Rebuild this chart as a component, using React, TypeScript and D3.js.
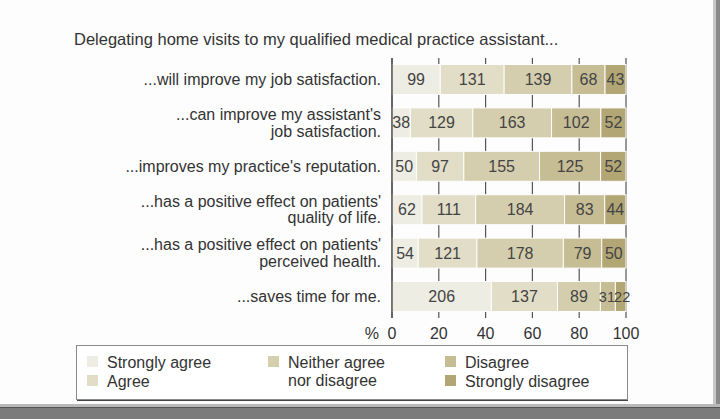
import React from "react";
import * as d3 from "d3";

const title = "Delegating home visits to my qualified medical practice assistant...";
const categories = [
  ["...will improve my job satisfaction."],
  ["...can improve my assistant's", "job satisfaction."],
  ["...improves my practice's reputation."],
  ["...has a positive effect on patients'", "quality of life."],
  ["...has a positive effect on patients'", "perceived health."],
  ["...saves time for me."],
];
const seriesNames = ["Strongly agree", "Agree", "Neither agree nor disagree", "Disagree", "Strongly disagree"];
const strongAgree = [99, 38, 50, 62, 54, 206];
const agree = [131, 129, 97, 111, 121, 137];
const neither = [139, 163, 155, 184, 178, 89];
const disagree = [68, 102, 125, 83, 79, 31];
const strongDisagree = [43, 52, 52, 44, 50, 22];
const tickValues = [0, 20, 40, 60, 80, 100];

const colors = ["#eeede3", "#e1ddc7", "#d5ceae", "#c6bd95", "#b2a674"];
const FONT = "'Liberation Sans', Arial, sans-serif";

export default function App() {
  const W = 720, H = 419;
  const keys = ["sa", "a", "n", "d", "sd"];
  const rows = categories.map((c, i) => ({
    idx: i,
    sa: strongAgree[i], a: agree[i], n: neither[i], d: disagree[i], sd: strongDisagree[i],
  }));
  const stack = d3.stack<any>().keys(keys).offset(d3.stackOffsetExpand);
  const layers = stack(rows as any);
  const x = d3.scaleLinear().domain([0, 1]).range([392, 626]);
  const xt = d3.scaleLinear().domain([0, 100]).range([392, 626]);
  const y = d3.scaleBand<number>().domain(categories.map((_, i) => i)).range([58, 318]).paddingInner(0.31).paddingOuter(0.15);
  const raw = [strongAgree, agree, neither, disagree, strongDisagree];

  return (
    <svg width={W} height={H} style={{ position: "absolute", left: 0, top: 0, background: "#fdfdfd" }} fontFamily={FONT}>
      <rect x={0} y={0} width={W} height={H} fill="#fdfdfd" />
      {/* frame */}
      <rect x={713} y={0} width={3} height={H} fill="#c8c8c8" />
      <rect x={716} y={0} width={4} height={H} fill="#8a8a8a" />
      <rect x={0} y={404} width={W} height={3} fill="#b8b8b8" />
      <rect x={0} y={407} width={W} height={12} fill="#7b7b7b" />
      <rect x={0} y={407} width={W} height={1} fill="#555" />

      <text x={74} y={45} fontSize={16.5} fill="#333">{title}</text>

      {/* gridlines */}
      {tickValues.map((t) => (
        <line key={t} x1={xt(t)} x2={xt(t)} y1={58} y2={318} stroke="#555" strokeWidth={1.2} />
      ))}

      {/* bars */}
      {layers.map((layer, li) => (
        <g key={li}>
          {layer.map((d, ri) => {
            const w = x(d[1]) - x(d[0]);
            const narrow = w < 18;
            return (
              <g key={ri}>
                <rect
                  x={x(d[0])}
                  y={y(ri)}
                  width={w}
                  height={y.bandwidth()}
                  fill={colors[li]}
                  stroke="#fdfdfd"
                  strokeWidth={1}
                />
                <text
                  x={(x(d[0]) + x(d[1])) / 2 + (narrow ? (li === 3 ? -1 : 1.5) : 0)}
                  y={(y(ri) as number) + y.bandwidth() / 2 + 5.5}
                  textAnchor="middle"
                  fontSize={narrow ? 14.5 : 16}
                  fill="#444"
                >
                  {raw[li][ri]}
                </text>
              </g>
            );
          })}
        </g>
      ))}

      {/* left axis line */}
      <line x1={392} x2={392} y1={58} y2={318} stroke="#555" strokeWidth={1.5} />

      {/* category labels */}
      {categories.map((lines, i) => {
        const cy = (y(i) as number) + y.bandwidth() / 2;
        const lh = 16.5;
        const start = cy - ((lines.length - 1) * lh) / 2;
        return (
          <text key={i} textAnchor="end" fontSize={16} fill="#333">
            {lines.map((l, j) => (
              <tspan key={j} x={381} y={start + j * lh + 5.5}>{l}</tspan>
            ))}
          </text>
        );
      })}

      {/* x tick labels */}
      {tickValues.map((t) => (
        <text key={t} x={xt(t)} y={339} textAnchor="middle" fontSize={16} fill="#333">{t}</text>
      ))}
      <text x={379} y={339} textAnchor="end" fontSize={16} fill="#333">%</text>

      {/* legend */}
      <rect x={76.5} y={345.5} width={551} height={54} fill="#fff" stroke="#8a8a8a" strokeWidth={1} />
      <line x1={77} x2={628} y1={400.5} y2={400.5} stroke="#444" strokeWidth={1.2} />
      {[
        { c: 0, x: 87, y: 362, lines: [seriesNames[0]] },
        { c: 1, x: 87, y: 381, lines: [seriesNames[1]] },
        { c: 2, x: 268, y: 362, lines: ["Neither agree", "nor disagree"] },
        { c: 3, x: 445, y: 362, lines: [seriesNames[3]] },
        { c: 4, x: 445, y: 381, lines: [seriesNames[4]] },
      ].map((e) => (
        <g key={e.c}>
          <rect x={e.x} y={e.y - 6} width={11} height={11} fill={colors[e.c]} />
          <text fontSize={16} fill="#333">
            {e.lines.map((l, j) => (
              <tspan key={j} x={e.x + 20} y={e.y + 5.5 + j * 18}>{l}</tspan>
            ))}
          </text>
        </g>
      ))}
    </svg>
  );
}
